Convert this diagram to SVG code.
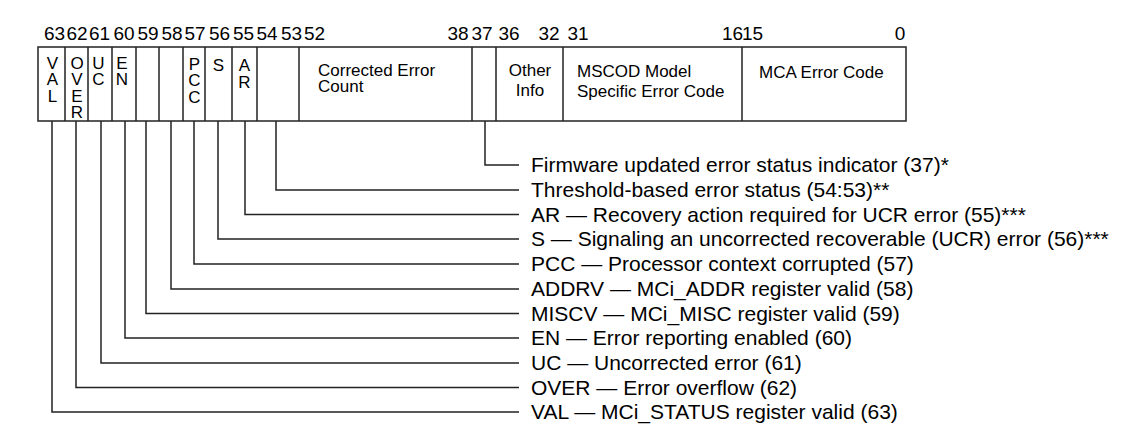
<svg xmlns="http://www.w3.org/2000/svg" width="1123" height="433" viewBox="0 0 1123 433">
  <style>
    text { font-family: "Liberation Sans", Arial, sans-serif; font-size: 17px; fill: #000; }
    .num { text-anchor: middle; font-size: 19px; }
    .mid { text-anchor: middle; }
    .desc { font-size: 21px; }
    .box { fill: #fff; stroke: #222; stroke-width: 1.5; }
    .div { stroke: #222; stroke-width: 1.5; }
    .conn { fill: none; stroke: #222; stroke-width: 1.5; }
  </style>
  <rect width="1123" height="433" fill="#fff"/>

  <!-- bit numbers above the register -->
  <g id="bit-numbers">
    <text class="num" x="54.5" y="40">63</text>
    <text class="num" x="77" y="40">62</text>
    <text class="num" x="99.5" y="40">61</text>
    <text class="num" x="124" y="40">60</text>
    <text class="num" x="148" y="40">59</text>
    <text class="num" x="172" y="40">58</text>
    <text class="num" x="195" y="40">57</text>
    <text class="num" x="219.5" y="40">56</text>
    <text class="num" x="243.5" y="40">55</text>
    <text class="num" x="267" y="40">54</text>
    <text class="num" x="291.5" y="40">53</text>
    <text class="num" x="314.5" y="40">52</text>
    <text class="num" x="458" y="40">38</text>
    <text class="num" x="482" y="40">37</text>
    <text class="num" x="509" y="40">36</text>
    <text class="num" x="549" y="40">32</text>
    <text class="num" x="578" y="40">31</text>
    <text class="num" x="732.5" y="40">16</text>
    <text class="num" x="752.5" y="40">15</text>
    <text class="num" x="900" y="40">0</text>
  </g>

  <!-- register outline and field dividers -->
  <g id="register">
    <rect class="box" x="38" y="47" width="868" height="74"/>
    <path class="div" d="M65 47V121M88 47V121M112 47V121M136 47V121M159 47V121M183 47V121M205 47V121M232 47V121M257 47V121M299 47V121M472 47V121M496 47V121M563 47V121M742 47V121"/>
  </g>

  <g id="field-val">
    <text class="mid" x="52.5" y="68.5">V</text>
    <text class="mid" x="52.5" y="85">A</text>
    <text class="mid" x="52.5" y="101.5">L</text>
  </g>
  <g id="field-over">
    <text class="mid" x="77" y="68.5">O</text>
    <text class="mid" x="77" y="85">V</text>
    <text class="mid" x="77" y="101.5">E</text>
    <text class="mid" x="77" y="118">R</text>
  </g>
  <g id="field-uc">
    <text class="mid" x="98.5" y="68.5">U</text>
    <text class="mid" x="98.5" y="85">C</text>
  </g>
  <g id="field-en">
    <text class="mid" x="122" y="68.5">E</text>
    <text class="mid" x="122" y="85">N</text>
  </g>
  <g id="field-pcc">
    <text class="mid" x="194.5" y="69.5">P</text>
    <text class="mid" x="194.5" y="86">C</text>
    <text class="mid" x="194.5" y="102.5">C</text>
  </g>
  <g id="field-s">
    <text class="mid" x="218.5" y="71">S</text>
  </g>
  <g id="field-ar">
    <text class="mid" x="244.5" y="71">A</text>
    <text class="mid" x="244.5" y="87.5">R</text>
  </g>
  <g id="field-count">
    <text x="318" y="76">Corrected Error</text>
    <text x="318" y="92">Count</text>
  </g>
  <g id="field-other">
    <text class="mid" x="530" y="75.5">Other</text>
    <text class="mid" x="530" y="96">Info</text>
  </g>
  <g id="field-mscod">
    <text x="577" y="76.5">MSCOD Model</text>
    <text x="577" y="96.5">Specific Error Code</text>
  </g>
  <g id="field-mca">
    <text x="759" y="78">MCA Error Code</text>
  </g>

  <!-- leader lines from bit fields to descriptions -->
  <g id="connectors">
    <path class="conn" d="M485 121V165H519"/>
    <path class="conn" d="M276 121V190H519"/>
    <path class="conn" d="M245 121V214.5H519"/>
    <path class="conn" d="M218 121V239H519"/>
    <path class="conn" d="M194 121V264H519"/>
    <path class="conn" d="M171 121V289H519"/>
    <path class="conn" d="M146 121V313.5H519"/>
    <path class="conn" d="M125 121V338H519"/>
    <path class="conn" d="M101 121V363H519"/>
    <path class="conn" d="M76 121V387.5H519"/>
    <path class="conn" d="M52 121V412H519"/>
  </g>

  <g id="descriptions">
    <text class="desc" x="531" y="172">Firmware updated error status indicator (37)*</text>
    <text class="desc" x="531" y="197">Threshold-based error status (54:53)**</text>
    <text class="desc" x="531" y="221.5">AR — Recovery action required for UCR error (55)***</text>
    <text class="desc" x="531" y="246">S — Signaling an uncorrected recoverable (UCR) error (56)***</text>
    <text class="desc" x="531" y="271">PCC — Processor context corrupted (57)</text>
    <text class="desc" x="531" y="296">ADDRV — MCi_ADDR register valid (58)</text>
    <text class="desc" x="531" y="320.5">MISCV — MCi_MISC register valid (59)</text>
    <text class="desc" x="531" y="345">EN — Error reporting enabled (60)</text>
    <text class="desc" x="531" y="370">UC — Uncorrected error (61)</text>
    <text class="desc" x="531" y="394.5">OVER — Error overflow (62)</text>
    <text class="desc" x="531" y="419">VAL — MCi_STATUS register valid (63)</text>
  </g>
</svg>
